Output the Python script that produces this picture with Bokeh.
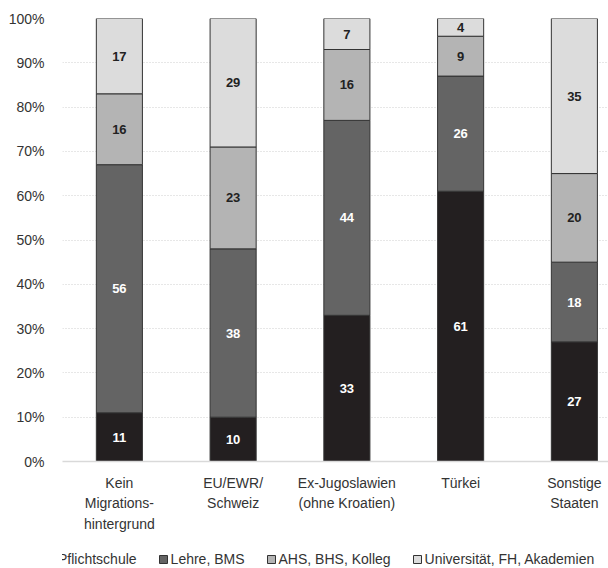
from bokeh.plotting import figure
from bokeh.layouts import column
from bokeh.models import (ColumnDataSource, Range1d, FixedTicker, PrintfTickFormatter,
                          Legend, LegendItem, LabelSet)
from bokeh.core.properties import value
from bokeh.embed import file_html
from bokeh.resources import INLINE

# Highest completed education by migration background (shares in %)
groups = ["Kein\nMigrations-\nhintergrund", "EU/EWR/\nSchweiz",
          "Ex-Jugoslawien\n(ohne Kroatien)", "Türkei", "Sonstige\nStaaten"]
series = ["Pflichtschule", "Lehre, BMS", "AHS, BHS, Kolleg", "Universität, FH, Akademien"]
pflichtschule = [11, 10, 33, 61, 27]
lehre_bms = [56, 38, 44, 26, 18]
ahs_bhs = [16, 23, 16, 9, 20]
universitaet = [17, 29, 7, 4, 35]
colors = ["#231f20", "#646464", "#b4b4b4", "#dcdcdc"]
label_colors = ["white", "white", "#222222", "#222222"]
y_ticks = [0, 10, 20, 30, 40, 50, 60, 70, 80, 90, 100]

FONT = "Liberation Sans"
values = [pflichtschule, lehre_bms, ahs_bhs, universitaet]
keys = ["s0", "s1", "s2", "s3"]
xs = list(range(len(groups)))

data = {"x": xs}
for k, v in zip(keys, values):
    data[k] = v
source = ColumnDataSource(data)

p = figure(width=608, height=545, frame_width=546, frame_height=443,
           output_backend="svg", toolbar_location=None,
           x_range=Range1d(-0.5, 4.3), y_range=Range1d(0, 100),
           min_border_left=62, min_border_right=0, min_border_top=18, min_border_bottom=84)
p.outline_line_color = None
p.background_fill_color = "white"

p.vbar_stack(keys, x="x", width=0.405, color=colors, source=source,
             line_color="#333333", line_width=1)

# segment value labels placed at each segment's centre
lx, ly, lt, lc = [], [], [], []
for i in xs:
    base = 0
    for s, v in enumerate(values):
        lx.append(i)
        ly.append(base + v[i] / 2)
        lt.append(str(v[i]))
        lc.append(label_colors[s])
        base += v[i]
lab_src = ColumnDataSource(dict(x=lx, y=ly, t=lt, c=lc))
p.add_layout(LabelSet(x="x", y="y", text="t", source=lab_src, text_color="c",
                      text_font=value(FONT), text_font_size="13px", text_font_style="bold",
                      text_align="center", text_baseline="middle"))

# axes
p.yaxis.ticker = FixedTicker(ticks=y_ticks)
p.yaxis.formatter = PrintfTickFormatter(format="%d%%")
p.yaxis.axis_line_color = None
p.yaxis.major_tick_line_color = None
p.yaxis.minor_tick_line_color = None
p.yaxis.major_label_text_font = FONT
p.yaxis.major_label_text_font_size = "14px"
p.yaxis.major_label_text_color = "#333333"
p.yaxis.major_label_standoff = 12

p.xaxis.ticker = FixedTicker(ticks=xs)
p.xaxis.major_label_overrides = {i: g for i, g in enumerate(groups)}
p.xaxis.axis_line_color = "#d9d9d9"
p.xaxis.axis_line_width = 1.5
p.xaxis.major_tick_line_color = None
p.xaxis.minor_tick_line_color = None
p.xaxis.major_label_text_font = FONT
p.xaxis.major_label_text_font_size = "14px"
p.xaxis.major_label_text_color = "#333333"
p.xaxis.major_label_standoff = 7
p.xaxis.major_label_text_line_height = 1.3

p.xgrid.grid_line_color = None
p.ygrid.grid_line_color = "#cfcfcf"
p.ygrid.grid_line_dash = "1 2"
p.ygrid.grid_line_width = 1

# legend strip underneath the chart (swatch bars sit outside its visible range)
lg = figure(width=608, height=23, output_backend="svg", toolbar_location=None,
            x_range=Range1d(0, 1), y_range=Range1d(0, 1),
            x_axis_location=None, y_axis_location=None,
            min_border_left=0, min_border_right=0, min_border_top=0, min_border_bottom=0)
lg.grid.visible = False
lg.outline_line_color = None
swatches = [lg.vbar(x=[5], top=[0.5], width=0.1, fill_color=c, line_color="#333333")
            for c in colors]
legend = Legend(items=[LegendItem(label=s, renderers=[r]) for s, r in zip(series, swatches)],
                orientation="horizontal", location=(-17, 1),
                label_text_font=FONT, label_text_font_size="14px",
                label_text_color="#333333", glyph_width=10, glyph_height=10,
                label_standoff=3, spacing=21, padding=0, margin=0,
                label_height=16, border_line_color=None, background_fill_alpha=0)
lg.add_layout(legend, "center")

layout = column(p, lg, spacing=0)
open("out.html", "w").write(file_html(layout, INLINE))
